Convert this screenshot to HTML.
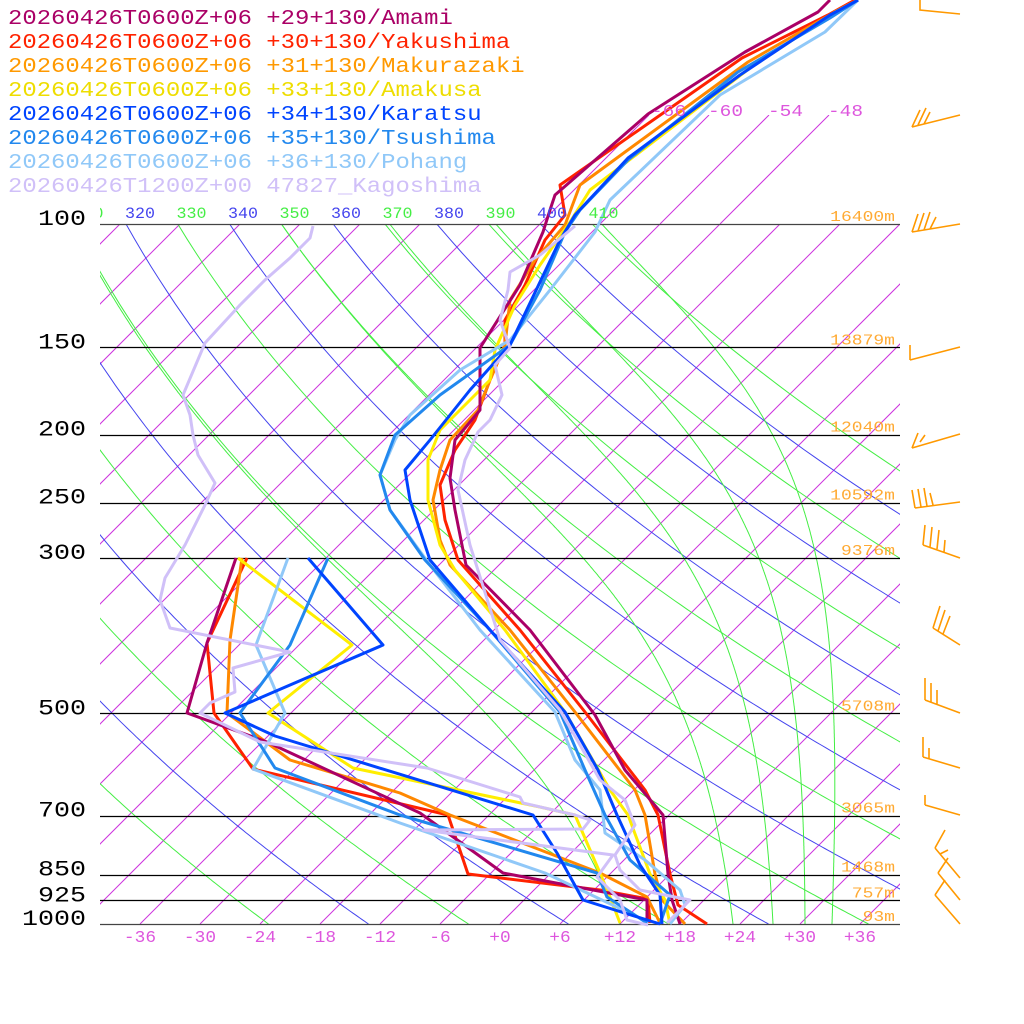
<!DOCTYPE html>
<html><head><meta charset="utf-8"><style>
html,body{margin:0;padding:0;background:#fff;}
svg{display:block;}
text{font-family:"Liberation Mono","DejaVu Sans Mono",monospace;}
</style></head><body>
<svg id="s" width="1024" height="1024" viewBox="0 0 1024 1024" xmlns="http://www.w3.org/2000/svg">
<defs>
<clipPath id="cp"><rect x="100" y="224" width="800" height="700"/></clipPath>
<clipPath id="ct"><rect x="100" y="115" width="800" height="809"/></clipPath>
<clipPath id="cl"><rect x="100" y="190" width="800" height="40"/></clipPath>
</defs>
<g id="grid"></g>
<g id="isob" stroke="#000" stroke-width="1.3"></g>
<g id="data" fill="none" stroke-width="3" stroke-linejoin="round"></g>
<g id="txt"></g>
<g id="barbs" fill="none" stroke="#ff9900" stroke-width="1.6"></g>
</svg>
<script>
const NS="http://www.w3.org/2000/svg";
function el(par,tag,attrs,txt){const e=document.createElementNS(NS,tag);for(const k in attrs)e.setAttribute(k,attrs[k]);if(txt!==undefined)e.textContent=txt;par.appendChild(e);return e;}
const Y=p=>924-700*Math.log10(1000/p);
const X=(T,y)=>500+10*T+(924-y);
const grid=document.getElementById('grid');
const gi=el(grid,'g',{'clip-path':'url(#cp)',stroke:'#cc33dd','stroke-width':'1'});
for(let T=-150;T<=40;T+=6){el(gi,'line',{x1:X(T,924),y1:924,x2:X(T,224),y2:224});}
const gi2=el(grid,'g',{'clip-path':'url(#ct)',stroke:'#cc33dd','stroke-width':'1'});
for(let T=-66;T<=-48;T+=6){el(gi2,'line',{x1:X(T,224),y1:224,x2:X(T,115),y2:115});}
const gd=el(grid,'g',{'clip-path':'url(#cp)',fill:'none','stroke-width':'1'});
for(let th=250;th<=410;th+=10){let pts=[];for(let p=1000;p>=100;p-=5){const T=th*Math.pow(p/1000,0.2857)-273.15;const y=Y(p);pts.push(X(T,y).toFixed(1)+','+y.toFixed(1));}
 el(gd,'polyline',{points:pts.join(' '),stroke:((th/10)%2==0)?'#4444ee':'#44ee44'});}
function es(Tc){return 6.112*Math.exp(17.67*Tc/(Tc+243.5));}
for(const T0 of [12,23.3,27.3,30.5,33.2]){let T=T0+273.15;let pts=[];for(let p=1000;p>=100;p-=1){const y=Y(p);pts.push(X(T-273.15,y).toFixed(1)+','+y.toFixed(1));const e=es(T-273.15);const rs=0.622*e/(p-e);const dT=(287*T+2.5e6*rs)/(p*(1004+2.5e6*2.5e6*rs*0.622/(287*T*T)));T-=dT;}
 el(gd,'polyline',{points:pts.join(' '),stroke:'#44ee44'});}
const ib=document.getElementById('isob');
const H=[[100,'16400m'],[150,'13879m'],[200,'12040m'],[250,'10592m'],[300,'9376m'],[500,'5708m'],[700,'3065m'],[850,'1468m'],[925,'757m'],[1000,'93m']];
H.forEach(([p,h])=>{const y=Math.round(Y(p))+0.5;el(ib,'line',{x1:100,x2:900,y1:y,y2:y,stroke:(p==100||p==1000)?'#444':'#000'});});
const tx=document.getElementById('txt');
[[100,'100'],[150,'150'],[200,'200'],[250,'250'],[300,'300'],[500,'500'],[700,'700'],[850,'850'],[925,'925'],[1000,'1000']].forEach(([p,l])=>{
 el(tx,'text',{x:86,y:Y(p)+1,'font-size':22,'text-anchor':'end',fill:'#000',textLength:16*l.length,lengthAdjust:'spacingAndGlyphs'},l);});
H.forEach(([p,h])=>{el(tx,'text',{x:895,y:Y(p)-3,'font-size':15,'text-anchor':'end',fill:'#ffaa33',textLength:10.8*h.length,lengthAdjust:'spacingAndGlyphs'},h);});
for(let T=-36;T<=36;T+=6){const l=(T>=0?'+':'')+T;el(tx,'text',{x:500+10*T,y:942,'font-size':17,'text-anchor':'middle',fill:'#dd55dd',textLength:10.7*l.length,lengthAdjust:'spacingAndGlyphs'},l);}
[[-66,651],[-60,708],[-54,768],[-48,828]].forEach(([T,x])=>el(tx,'text',{x:x,y:116,'font-size':17,fill:'#dd55dd',textLength:35,lengthAdjust:'spacingAndGlyphs'},String(T)));
const gl=el(tx,'g',{'clip-path':'url(#cl)'});
for(let i=-1;i<=9;i++){const th=320+10*i;const x=140+51.5*i;el(gl,'text',{x:x,y:218,'font-size':16,'text-anchor':'middle',fill:((th/10)%2==0)?'#4444ee':'#44ee44',textLength:30,lengthAdjust:'spacingAndGlyphs'},String(th));}
const D=[
['#ff2200',"855,0 828,15 742,58 560,185 565,215 545,240 525,285 505,320 505,345 490,380 475,420 455,450 440,485 445,520 458,560 520,630 585,712 645,790 658,815 670,874 678,905 707,924"],
['#ff2200',"247,558 207,643 214,713 253,769 448,815 468,874 600,890 648,899 650,923"],
['#ff8800',"858,0 835,12 748,62 580,185 565,225 535,260 510,300 505,345 490,380 478,410 450,440 440,470 433,500 440,540 450,565 510,630 575,712 635,790 645,815 655,874 662,900 685,924"],
['#ff8800',"242,558 230,640 227,713 290,760 400,793 450,815 600,873 647,897 660,923"],
['#ffee00',"858,0 835,12 750,68 590,190 570,222 540,265 515,305 495,350 490,380 470,400 440,430 428,460 428,500 440,545 455,570 505,630 565,712 610,790 628,815 650,874 665,900 670,924"],
['#ffee00',"238,558 352,645 268,713 353,768 540,807 575,815 600,873 610,897 620,923"],
['#aa0066',"830,0 818,12 745,52 648,114 555,195 550,210 543,232 520,285 480,348 480,410 455,440 450,478 455,510 466,565 530,630 595,715 625,770 663,815 668,874 672,900 680,924"],
['#aa0066',"236,558 207,643 187,713 267,742 420,813 503,873 593,890 647,900 647,923"],
['#90c8f8',"858,0 825,32 720,95 610,200 595,232 550,290 510,340 460,370 410,415 395,440 380,475 390,510 430,565 480,630 555,712 575,760 600,790 605,833 645,860 680,890 685,905 670,924"],
['#90c8f8',"288,558 256,645 285,713 253,769 400,823 545,873 640,918 648,923"],
['#2288ee',"858,0 830,18 738,72 628,160 580,210 565,232 540,290 510,345 440,395 395,435 380,475 390,510 425,560 490,630 560,712 585,770 605,815 630,860 670,895 660,924"],
['#2288ee',"328,558 290,645 240,713 275,768 400,815 597,873 607,897 647,923"],
['#0044ff',"858,0 830,15 740,75 628,158 575,215 560,240 510,345 470,390 430,440 405,470 410,500 430,560 490,630 565,712 598,770 617,815 640,865 660,895 662,924"],
['#0044ff',"308,558 383,645 225,713 275,736 533,815 557,853 583,900 660,924"],
['#d0c0f8',"575,226 540,255 510,272 508,290 500,320 510,348 495,365 502,395 490,420 478,432 465,460 458,490 470,545 500,640 560,710 600,780 625,800 630,813 635,825 615,855 620,870 640,890 690,900 677,913 667,923"],
['#d0c0f8',"313,226 310,238 290,258 265,280 240,305 205,343 183,395 190,415 193,435 198,455 215,483 205,505 185,545 165,578 160,600 170,628 230,640 290,652 233,668 235,692 210,703 200,713 260,742 427,768 520,797 523,803 575,815 590,820 583,829 423,830 613,855 597,877 620,900 627,920 648,925"]
];
const gdat=document.getElementById('data');
D.forEach(([c,p])=>el(gdat,'polyline',{points:p,stroke:c}));
const L=[['#aa0066','20260426T0600Z+06 +29+130/Amami'],['#ff2200','20260426T0600Z+06 +30+130/Yakushima'],['#ff9900','20260426T0600Z+06 +31+130/Makurazaki'],['#eedd00','20260426T0600Z+06 +33+130/Amakusa'],['#0044ff','20260426T0600Z+06 +34+130/Karatsu'],['#2288ee','20260426T0600Z+06 +35+130/Tsushima'],['#90c8f8','20260426T0600Z+06 +36+130/Pohang'],['#d0c0f8','20260426T1200Z+00 47827_Kagoshima']];
L.forEach(([c,t],i)=>el(tx,'text',{x:8,y:24+24*i,'font-size':21,fill:c,textLength:14.35*t.length,lengthAdjust:'spacingAndGlyphs'},t));
const B=[
"M920,0 L920,10 L960,14",
"M960,115 L912,127 M912,127 L920,110 M918,125 L926,108 M924,124 L930,112",
"M960,224 L912,232 M912,232 L918,214 M918,231 L924,213 M924,230 L930,212 M930,229 L936,217",
"M960,347 L910,360 M910,360 L910,345",
"M960,434 L912,448 M912,448 L918,433 M920,442 L925,435",
"M960,502 L915,508 M915,508 L912,490 M921,507 L918,489 M927,506 L924,488 M933,505 L930,493",
"M960,558 L923,545 M923,545 L925,525 M930,547 L932,527 M937,549 L939,530 M944,552 L945,540",
"M960,645 L933,628 M933,628 L940,606 M938,631 L945,610 M943,634 L950,616",
"M960,713 L925,700 M925,700 L925,678 M931,702 L931,683 M937,704 L937,690",
"M960,768 L923,757 M923,757 L923,737 M929,759 L929,748",
"M960,815 L925,805 M925,805 L925,795",
"M960,878 L935,848 M935,848 L945,830 M940,854 L948,850",
"M960,900 L938,873 M938,873 L948,858",
"M960,924 L935,895 M935,895 L945,880"
];
const gb=document.getElementById('barbs');
B.forEach(d=>el(gb,'path',{d:d}));
</script>
</body></html>
